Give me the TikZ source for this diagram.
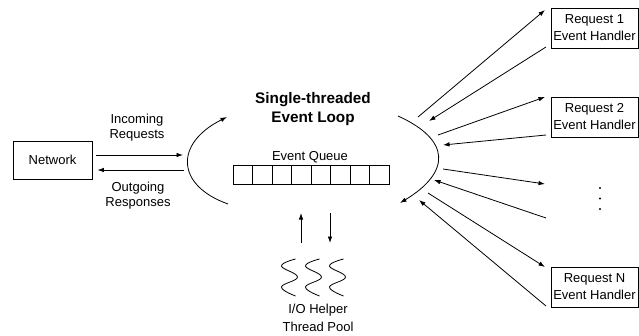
\documentclass[tikz,border=0pt]{standalone}
\usepackage{fontspec}
\setmainfont{Liberation Sans}
\usetikzlibrary{arrows.meta}
\tikzset{
  lbl/.style={align=center,inner sep=0pt,font=\fontsize{13}{15}\selectfont},
  titlelbl/.style={align=center,inner sep=0pt,font=\fontsize{15.3}{19}\selectfont\bfseries},
  boxnode/.style={draw,line width=0.8pt,inner sep=0pt,minimum width=79pt,minimum height=38pt,font=\fontsize{13}{17}\selectfont,align=center},
  handler/.style={boxnode,minimum width=87pt,minimum height=40pt},
  cell/.style={draw,line width=0.8pt,inner sep=0pt,outer sep=0pt,minimum width=19.5pt,minimum height=19pt},
  arr/.style={line width=0.8pt,-{Latex[length=6.5pt,width=4.5pt]}},
  wave/.style={line width=0.8pt}
}
\begin{document}
\begin{tikzpicture}[x=1pt,y=-1pt]
\useasboundingbox (0,0) rectangle (639,335);
% nodes
\node[boxnode] (net) at (52.5,160) {Network};
\node[lbl] (inlbl) at (137,127.5) {Incoming\\Requests};
\node[lbl] (outlbl) at (138,195.5) {Outgoing\\Responses};
\node[titlelbl] (title) at (313,109.5) {Single-threaded\\Event Loop};
\node[lbl] (eqlbl) at (310,157) {Event Queue};
\foreach \i in {1,...,8}{
  \node[cell] (q\i) at ({233+19.5*(\i-0.5)},174.5) {};
}
\node[handler] (h1) at (594.5,28) {Request 1\\Event Handler};
\node[handler] (h2) at (594.5,117) {Request 2\\Event Handler};
\node[handler] (hn) at (594.5,287) {Request N\\Event Handler};
\node[lbl,font=\fontsize{13}{18}\selectfont] (pool) at (318,318) {I/O Helper\\Thread Pool};
% dots
\foreach \y in {188,198.5,209} \fill (600,\y) circle (1.2);
% coordinates
\coordinate (inR) at (183,155);
\coordinate (outR) at (184,170);
\coordinate (la1) at (228,204);
\coordinate (la2) at (227,117);
\coordinate (ra1) at (398,116);
\coordinate (ra2) at (400,203);
\coordinate (ioU1) at (301,243); \coordinate (ioU2) at (301,213);
\coordinate (ioD1) at (330,213); \coordinate (ioD2) at (330,243);
\coordinate (a1o) at (418,117); \coordinate (h1i) at (545,10);
\coordinate (h1o) at (546,47);  \coordinate (a1i) at (429,121);
\coordinate (a2o) at (438,135); \coordinate (h2i) at (545,97);
\coordinate (h2o) at (546,135); \coordinate (a2i) at (443,145);
\coordinate (a3o) at (443,169); \coordinate (h3i) at (545,184);
\coordinate (h3o) at (546,218); \coordinate (a3i) at (434,180);
\coordinate (ano) at (428,193); \coordinate (hni) at (545,267);
\coordinate (hno) at (546,306); \coordinate (ani) at (419,200);
% left arrows
\draw[arr] ([xshift=4pt,yshift=5pt]net.east) -- (inR);
\draw[arr] (outR) -- ([xshift=5pt,yshift=-10pt]net.east);
% arcs
\draw[arr] (la1) .. controls (175,185) and (175,143) .. (la2);
\draw[arr] (ra1) .. controls (451,140) and (451,172) .. (ra2);
% io arrows
\draw[arr] (ioU1) -- (ioU2);
\draw[arr] (ioD1) -- (ioD2);
% handler arrows
\draw[arr] (a1o) -- (h1i);
\draw[arr] (h1o) -- (a1i);
\draw[arr] (a2o) -- (h2i);
\draw[arr] (h2o) -- (a2i);
\draw[arr] (a3o) -- (h3i);
\draw[arr] (h3o) -- (a3i);
\draw[arr] (ano) -- (hni);
\draw[arr] (hno) -- (ani);
% thread squiggles
\foreach \c in {289.5,313.5,337.5}{
  \draw[wave] plot[smooth,tension=0.7] coordinates {(\c+6,259) (\c-8,266) (\c+8,277) (\c-8,287) (\c+6,296)};
}
\end{tikzpicture}
\end{document}
